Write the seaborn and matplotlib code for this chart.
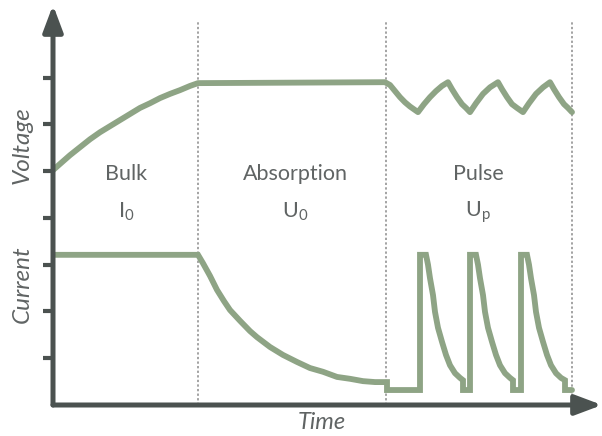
import matplotlib
matplotlib.use("Agg")
import matplotlib.pyplot as plt
import seaborn as sns

# time axis in arbitrary units, levels in tick units (ticks at 1..7)
phase_bounds = [145, 333, 519]
phase_names = ["Bulk", "Absorption", "Pulse"]
phase_symbols = [r"$\mathregular{I_0}$", r"$\mathregular{U_0}$", r"$\mathregular{U_p}$"]
phase_centers = [73, 242, 425]

volt_t = [0, 9, 17, 27, 37, 47, 57, 67, 77, 87, 97, 107, 117, 127, 137, 145, 332,
          337, 342, 347, 352, 357, 365, 371, 377, 383, 389, 395,
          399, 404, 409, 413, 417, 423, 430, 437, 445,
          449, 454, 459, 464, 470, 476, 483, 490, 497,
          501, 506, 511, 515, 519]
volt_v = [5.02, 5.19, 5.34, 5.51, 5.68, 5.83, 5.96, 6.09, 6.22, 6.35, 6.45, 6.56,
          6.65, 6.73, 6.82, 6.88, 6.90,
          6.84, 6.71, 6.58, 6.47, 6.38, 6.26, 6.43, 6.58, 6.71, 6.82, 6.90,
          6.75, 6.58, 6.43, 6.35, 6.26, 6.45, 6.65, 6.79, 6.90,
          6.75, 6.58, 6.43, 6.35, 6.26, 6.45, 6.65, 6.79, 6.90,
          6.75, 6.58, 6.43, 6.35, 6.26]

curr_t = [0, 145, 150, 157, 164, 171, 177, 187, 197, 204, 217, 230, 244, 257,
          270, 284, 297, 310, 322, 334, 334,
          367, 367, 373, 375, 377, 380, 382, 385, 389, 393, 397, 402, 407, 410, 410,
          417, 417, 423, 425, 427, 430, 432, 435, 439, 443, 447, 452, 457, 460, 460,
          468, 468, 474, 476, 478, 481, 483, 486, 490, 494, 498, 503, 508, 512, 512,
          519]
curr_v = [3.21, 3.21, 3.03, 2.76, 2.46, 2.22, 2.03, 1.80, 1.58, 1.45, 1.24, 1.07,
          0.92, 0.79, 0.71, 0.60, 0.56, 0.51, 0.49, 0.49, 0.32,
          0.32, 3.21, 3.21, 3.00, 2.71, 2.35, 1.99, 1.65, 1.35, 1.07, 0.85, 0.68,
          0.58, 0.53, 0.32,
          0.32, 3.21, 3.21, 3.00, 2.71, 2.35, 1.99, 1.65, 1.35, 1.07, 0.85, 0.68,
          0.58, 0.53, 0.32,
          0.32, 3.21, 3.21, 3.00, 2.71, 2.35, 1.99, 1.65, 1.35, 1.07, 0.85, 0.68,
          0.58, 0.53, 0.32,
          0.32]

sns.set_style("white")
plt.rcParams["font.family"] = ["Lato", "DejaVu Sans"]

green = "#8ea485"
axis_col = "#4b5250"
text_col = "#606464"

fig = plt.figure(figsize=(6.02, 4.36), dpi=100)
ax = fig.add_axes([53 / 602, 31 / 436, 549 / 602, 400 / 436])
ax.set_xlim(0, 549)
ax.set_ylim(0, 8.55)

# phase separators
for xb in phase_bounds:
    ax.plot([xb, xb], [0, 8.18], color="#8a8a8a", lw=1.1, ls=(0, (1.5, 1.5)), zorder=1)

sns.lineplot(x=volt_t, y=volt_v, sort=False, estimator=None, color=green,
             lw=4.2, ax=ax, zorder=3, solid_joinstyle="round")
sns.lineplot(x=curr_t, y=curr_v, sort=False, estimator=None, color=green,
             lw=4.2, ax=ax, zorder=3, solid_joinstyle="miter")

# axes with arrow heads
for s in ax.spines.values():
    s.set_visible(False)
arrow = dict(arrowstyle="-|>,head_length=0.8,head_width=0.3", lw=3.6,
             color=axis_col, mutation_scale=20, shrinkA=0, shrinkB=0)
ax.annotate("", xy=(1, 0), xytext=(0, 0), xycoords="axes fraction",
            arrowprops=arrow, annotation_clip=False)
ax.annotate("", xy=(0, 1), xytext=(0, 0), xycoords="axes fraction",
            arrowprops=arrow, annotation_clip=False)

ax.set_xticks([])
ax.set_yticks(range(1, 8))
ax.tick_params(axis="y", left=True, length=7, width=3, color=axis_col,
               direction="out", labelleft=False)

for cx, name, sym in zip(phase_centers, phase_names, phase_symbols):
    ax.text(cx, 4.94, name, ha="center", va="center", fontsize=15.5, color=text_col)
    ax.text(cx, 4.13, sym, ha="center", va="center", fontsize=15.5, color=text_col)

ax.text(-31, 5.56, "Voltage", rotation=90, ha="center", va="center",
        fontsize=17.5, style="italic", color=text_col)
ax.text(-31, 2.59, "Current", rotation=90, ha="center", va="center",
        fontsize=17.5, style="italic", color=text_col)
ax.text(269, -0.37, "Time", ha="center", va="center",
        fontsize=17, style="italic", color=text_col)

fig.savefig("out.png", dpi=100)
